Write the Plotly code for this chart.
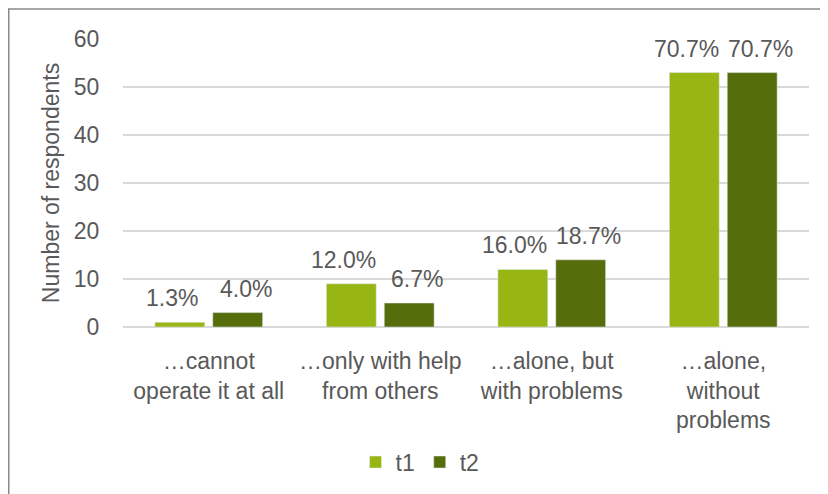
import plotly.graph_objects as go

categories = ["…cannot<br>operate it at all", "…only with help<br>from others",
              "…alone, but<br>with problems", "…alone,<br>without<br>problems"]
t1_values = [1, 9, 12, 53]
t2_values = [3, 5, 14, 53]
t1_labels = ["1.3%", "12.0%", "16.0%", "70.7%"]
t2_labels = ["4.0%", "6.7%", "18.7%", "70.7%"]
y_ticks = [0, 10, 20, 30, 40, 50, 60]

TEXT = "#595959"
FONT = "Liberation Sans, Arial, sans-serif"

W, H = 820, 486
L, R, T, B = 115, 19, 31, 166
BARGAP, GROUPGAP = 0.325, 0.138

fig = go.Figure()
fig.add_trace(go.Bar(name="t1", x=categories, y=t1_values, marker=dict(color="#97B614")))
fig.add_trace(go.Bar(name="t2", x=categories, y=t2_values, marker=dict(color="#566D0B")))

# data labels above each bar, offset to the bar's slot in the group
cat_px = (W - L - R) / len(categories)
slot_px = cat_px * (1 - BARGAP) / 2
annotations = []
for sign, vals, labels, nudge in [(-1, t1_values, t1_labels, -8), (1, t2_values, t2_labels, 8)]:
    for c, v, lab in zip(categories, vals, labels):
        annotations.append(dict(
            x=c, y=v, text=lab, showarrow=False, yanchor="bottom", xanchor="center",
            xshift=sign * slot_px / 2 + nudge, yshift=9,
            font=dict(size=23, color=TEXT, family=FONT),
        ))

pw, ph = W - L - R, H - T - B
fig.update_layout(
    width=W, height=H,
    margin=dict(l=L, r=R, t=T, b=B),
    paper_bgcolor="white", plot_bgcolor="white",
    font=dict(family=FONT, size=23, color=TEXT),
    barmode="group", bargap=BARGAP, bargroupgap=GROUPGAP,
    showlegend=True,
    legend=dict(orientation="h", x=0.433, xanchor="center", y=-0.464, yanchor="middle",
                font=dict(size=23, color=TEXT), itemwidth=30, traceorder="normal"),
    annotations=annotations,
    shapes=[dict(type="rect", xref="paper", yref="paper",
                 x0=(0.75 - L) / pw, x1=1.05, y0=-0.62, y1=1 + (T - 1) / ph,
                 line=dict(color="#898989", width=1.5), fillcolor="rgba(0,0,0,0)", layer="below")],
)
fig.update_xaxes(
    showgrid=False, showline=False, zeroline=False,
    ticks="outside", ticklen=13, tickcolor="rgba(0,0,0,0)",
    tickfont=dict(size=23, color=TEXT), automargin=False,
)
fig.update_yaxes(
    range=[0, 60], tickvals=y_ticks, showgrid=True, gridcolor="#D9D9D9", gridwidth=1.5,
    zeroline=True, zerolinecolor="#D9D9D9", zerolinewidth=1.5,
    ticks="outside", ticklen=18, tickcolor="rgba(0,0,0,0)",
    tickfont=dict(size=23, color=TEXT), automargin=False,
    title=dict(text="Number of respondents", font=dict(size=23, color=TEXT), standoff=7),
)

fig.write_html("out.html")
